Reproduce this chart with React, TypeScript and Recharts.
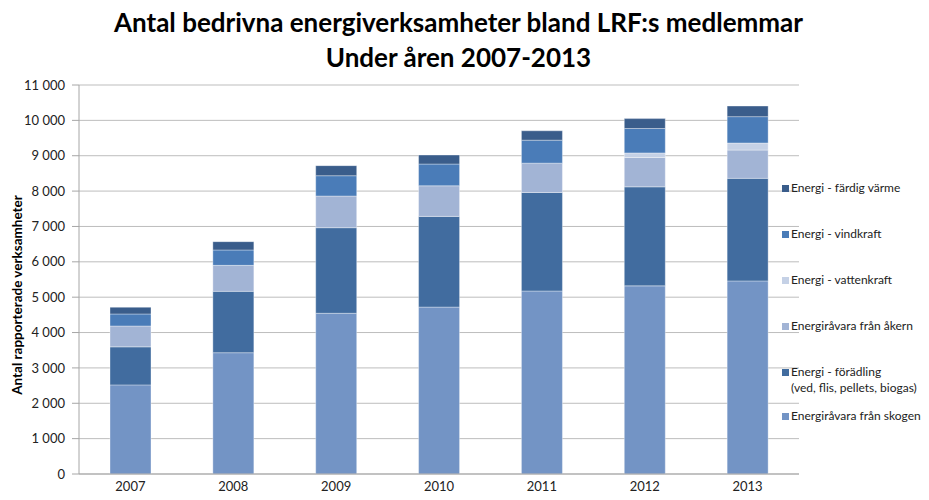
import React from "react";
import { BarChart, Bar, XAxis, YAxis, CartesianGrid } from "recharts";

const years = ["2007", "2008", "2009", "2010", "2011", "2012", "2013"];

const skogen = [2520, 3430, 4545, 4720, 5175, 5320, 5460];
const foradling = [1075, 1735, 2420, 2565, 2785, 2800, 2900];
const akern = [590, 735, 895, 865, 830, 830, 800];
const vattenkraft = [0, 0, 0, 0, 0, 130, 200];
const vindkraft = [340, 435, 575, 615, 650, 690, 745];
const varme = [190, 235, 285, 255, 265, 280, 300];

const yTicks = [0, 1000, 2000, 3000, 4000, 5000, 6000, 7000, 8000, 9000, 10000, 11000];

const series = [
  { key: "skogen", name: "Energiråvara från skogen", color: "#7394c5", values: skogen },
  { key: "foradling", name: "Energi - förädling\n(ved, flis, pellets, biogas)", color: "#416c9f", values: foradling },
  { key: "akern", name: "Energiråvara från åkern", color: "#a2b4d5", values: akern },
  { key: "vattenkraft", name: "Energi - vattenkraft", color: "#c5d1e6", values: vattenkraft },
  { key: "vindkraft", name: "Energi - vindkraft", color: "#4a7cb8", values: vindkraft },
  { key: "varme", name: "Energi - färdig värme", color: "#3a5d8b", values: varme },
];

const data = years.map((year, i) => {
  const row: { [k: string]: any } = { year };
  series.forEach((s) => (row[s.key] = s.values[i]));
  return row;
});

const font = "Lato, 'Open Sans', sans-serif";

const fmt = (v: number) => {
  if (v < 1000) return `${v}`;
  const t = Math.floor(v / 1000);
  const r = `${v % 1000}`.padStart(3, "0");
  return `${t} ${r}`;
};

const LegendBox = () => {
  const items = [...series].reverse();
  return (
    <div
      style={{
        position: "absolute",
        left: 782,
        top: 180,
        width: 147,
        fontFamily: font,
        fontSize: 12,
        color: "#222",
        whiteSpace: "nowrap",
      }}
    >
      {items.map((s) => {
        const lines = s.name.split("\n");
        return (
          <div key={s.key} style={{ height: lines.length > 1 ? 44 : 46, display: "flex", alignItems: "flex-start" }}>
            <span
              style={{
                display: "inline-block",
                flex: "none",
                width: 7,
                height: 7,
                background: s.color,
                marginTop: 5,
                marginRight: 2,
              }}
            />
            <span style={{ lineHeight: "16px" }}>
              {lines.map((l, j) => (
                <div key={j}>{l}</div>
              ))}
            </span>
          </div>
        );
      })}
    </div>
  );
};

export default function App() {
  return (
    <div style={{ position: "relative", width: 929, height: 500, margin: -8, background: "#fff" }}>
      <BarChart
        width={929}
        height={500}
        data={data}
        margin={{ top: 85, right: 130, left: 19, bottom: 4 }}
      >
        <CartesianGrid vertical={false} stroke="#bdbdbd" />
        <XAxis
          xAxisId="b"
          type="number"
          domain={[0, 7]}
          ticks={[0, 1, 2, 3, 4, 5, 6, 7]}
          height={0}
          tick={false}
          tickSize={6}
          tickLine={{ stroke: "#a6a6a6" }}
          axisLine={false}
          allowDataOverflow
        />
        <XAxis
          dataKey="year"
          height={22}
          tickLine={false}
          tickSize={0}
          axisLine={{ stroke: "#a6a6a6" }}
          tick={{ fontFamily: font, fontSize: 13, fill: "#222" }}
          tickMargin={8}
        />
        <YAxis
          width={60}
          domain={[0, 11000]}
          ticks={yTicks}
          tickFormatter={fmt}
          tickSize={7}
          tickMargin={7}
          tickLine={{ stroke: "#a6a6a6" }}
          axisLine={{ stroke: "#a6a6a6" }}
          tick={{ fontFamily: font, fontSize: 13, fill: "#222" }}
          interval={0}
        />
        {series.map((s) => (
          <Bar
            key={s.key}
            dataKey={s.key}
            name={s.name}
            stackId="a"
            fill={s.color}
            stroke="rgba(255,255,255,0.35)"
            strokeWidth={1}
            barSize={41}
            isAnimationActive={false}
          />
        ))}
      </BarChart>
      <div
        style={{
          position: "absolute",
          top: 5,
          left: -6,
          width: 929,
          textAlign: "center",
          fontFamily: font,
          fontWeight: 700,
          fontSize: 26,
          lineHeight: "35px",
          color: "#000",
        }}
      >
        Antal bedrivna energiverksamheter bland LRF:s medlemmar
        <br />
        Under åren 2007-2013
      </div>
      <div
        style={{
          position: "absolute",
          left: 17,
          top: 295,
          transform: "translate(-50%, -50%) rotate(-90deg)",
          whiteSpace: "nowrap",
          fontFamily: font,
          fontWeight: 700,
          fontSize: 13.5,
          color: "#000",
        }}
      >
        Antal rapporterade verksamheter
      </div>
      <LegendBox />
    </div>
  );
}
